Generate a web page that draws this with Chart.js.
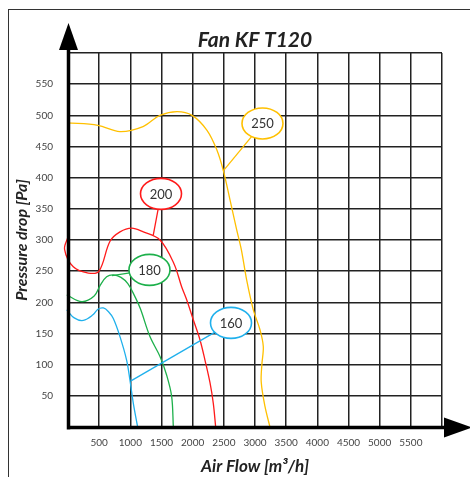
<!DOCTYPE html>
<html>
<head>
<meta charset="utf-8">
<script src="https://cdn.jsdelivr.net/npm/chart.js@4"></script>
<style>
  body { margin: 0; background: #fff; }
  canvas { display: block; }
</style>
</head>
<body>
<canvas id="fanChart" width="470" height="477"></canvas>
<script>
// curve labels (fan speed)
const speeds = ['250', '200', '180', '160'];

// air flow [m3/h] and pressure drop [Pa]
const flow250 = [-15, 480, 834, 1203, 1475, 1750, 1990, 2230, 2390, 2490, 2600, 2700, 2780, 2866, 2973, 3080, 3133, 3110, 3100, 3160, 3240];
const pa250   = [488, 484, 474, 482, 500, 506, 500, 476, 444, 412, 364, 319, 285, 236, 188, 156, 129, 100, 72, 33, 0];

const flow200 = [0, -55, 85, 326, 497, 674, 834, 1021, 1208, 1476, 1700, 1823, 1904, 2010, 2117, 2198, 2278, 2331, 2369];
const pa200   = [305, 285, 257, 247, 250, 298, 313, 319, 313, 300, 262, 225, 204, 172, 140, 107, 71, 38, 0];

const flow180 = [-20, 220, 420, 520, 620, 727, 850, 960, 1060, 1160, 1315, 1476, 1583, 1663, 1690];
const pa180   = [212, 201, 210, 228, 241, 244, 240, 230, 212, 190, 145, 113, 83, 49, 0];

const flow160 = [-20, 100, 246, 400, 480, 567, 650, 727, 834, 941, 994, 1048, 1117];
const pa160   = [188, 175, 171, 180, 189, 191, 185, 174, 145, 107, 75, 38, 0];

// where each speed label sits, and the curve point its pointer touches
const labelFlow   = [3120, 1492, 1307, 2615];
const labelPa     = [487, 374, 252, 167];
const pointerFlow = [2491, 1368, 706, 1010];
const pointerPa   = [411, 308, 243, 74];

// tick labels shown on the axes
const xTickLabels = [500, 1000, 1500, 2000, 2500, 3000, 3500, 4000, 4500, 5000, 5500];
const yTickLabels = [50, 100, 150, 200, 250, 300, 350, 400, 450, 500, 550];

const colors = ['#FFC000', '#FF1A1A', '#1DB04B', '#1FB0EC'];
const FONT = 'Lato, "Open Sans", sans-serif';

const toPoints = (xs, ys) => xs.map((x, i) => ({ x: x, y: ys[i] }));
const series = [
  toPoints(flow250, pa250),
  toPoints(flow200, pa200),
  toPoints(flow180, pa180),
  toPoints(flow160, pa160)
];

// frame, axis arrows and the little speed ellipses
const decorPlugin = {
  id: 'decor',
  beforeDraw(chart) {
    const ctx = chart.ctx;
    ctx.save();
    ctx.strokeStyle = '#333';
    ctx.lineWidth = 1;
    ctx.strokeRect(8.5, 9.5, 480, 480);
    ctx.restore();
  },
  afterDatasetsDraw(chart) {
    const ctx = chart.ctx;
    const a = chart.chartArea;
    const xs = chart.scales.x, ys = chart.scales.y;
    ctx.save();

    // axes
    ctx.strokeStyle = '#000';
    ctx.fillStyle = '#000';
    ctx.lineWidth = 3.5;
    ctx.beginPath();
    ctx.moveTo(a.left + 0.5, a.bottom + 2.5);
    ctx.lineTo(a.left + 0.5, a.top - 4);
    ctx.moveTo(a.left - 1, a.bottom + 0.5);
    ctx.lineTo(a.right + 4, a.bottom + 0.5);
    ctx.stroke();

    ctx.beginPath();
    ctx.moveTo(a.left + 0.5, a.top - 30);
    ctx.lineTo(a.left - 9, a.top - 3);
    ctx.lineTo(a.left + 10, a.top - 3);
    ctx.closePath();
    ctx.fill();

    ctx.beginPath();
    ctx.moveTo(a.right + 30, a.bottom + 0.5);
    ctx.lineTo(a.right + 2, a.bottom - 9.5);
    ctx.lineTo(a.right + 2, a.bottom + 10.5);
    ctx.closePath();
    ctx.fill();

    // speed labels
    speeds.forEach((s, i) => {
      const cx = xs.getPixelForValue(labelFlow[i]);
      const cy = ys.getPixelForValue(labelPa[i]);
      const px = xs.getPixelForValue(pointerFlow[i]);
      const py = ys.getPixelForValue(pointerPa[i]);
      ctx.strokeStyle = colors[i];
      ctx.lineWidth = 1.3;
      ctx.beginPath();
      ctx.moveTo(px, py);
      ctx.lineTo(cx, cy);
      ctx.stroke();

      ctx.beginPath();
      ctx.ellipse(cx, cy, 20.5, 15.5, 0, 0, Math.PI * 2);
      ctx.fillStyle = '#fff';
      ctx.fill();
      ctx.lineWidth = 1.6;
      ctx.stroke();

      ctx.fillStyle = '#333';
      ctx.font = '13px ' + FONT;
      ctx.textAlign = 'center';
      ctx.textBaseline = 'middle';
      ctx.fillText(s, cx, cy + 0.5);
    });
    ctx.restore();
  }
};

new Chart(document.getElementById('fanChart'), {
  type: 'scatter',
  data: {
    datasets: series.map((pts, i) => ({
      label: speeds[i],
      data: pts,
      showLine: true,
      borderColor: colors[i],
      borderWidth: 1.3,
      pointRadius: 0,
      tension: 0.35,
      clip: false
    }))
  },
  options: {
    responsive: false,
    animation: false,
    devicePixelRatio: 1,
    layout: { padding: { left: 0, right: 28, top: 0, bottom: 0 } },
    plugins: {
      legend: { display: false },
      tooltip: { enabled: false },
      title: {
        display: true,
        text: 'Fan KF T120',
        fullSize: false,
        color: '#222',
        font: { family: FONT, size: 21, weight: 'bold', style: 'italic' },
        padding: { top: 27.8, bottom: 0 }
      }
    },
    scales: {
      x: {
        type: 'linear',
        min: 0,
        max: 6000,
        afterFit: s => { s.height = 50; },
        border: { display: false },
        grid: { color: '#222', lineWidth: 1.5, drawTicks: false },
        ticks: {
          stepSize: 500,
          padding: 10,
          color: '#444',
          font: { family: FONT, size: 10 },
          maxRotation: 0,
          callback: v => xTickLabels.includes(v) ? String(v) : ''
        },
        title: {
          display: true,
          text: 'Air Flow [m³/h]',
          color: '#222',
          font: { family: FONT, size: 17, weight: 'bold', style: 'italic' },
          padding: { top: 0, bottom: 0 }
        }
      },
      y: {
        min: 0,
        max: 600,
        afterFit: s => { s.width = 68; },
        border: { display: false },
        grid: { color: '#222', lineWidth: 1.5, drawTicks: false },
        ticks: {
          stepSize: 50,
          padding: 15,
          color: '#444',
          font: { family: FONT, size: 10 },
          callback: v => yTickLabels.includes(v) ? String(v) : ''
        },
        title: {
          display: true,
          text: 'Pressure drop [Pa]',
          color: '#222',
          font: { family: FONT, size: 16, weight: 'bold', style: 'italic' },
          padding: { top: 12, bottom: 0 }
        }
      }
    }
  },
  plugins: [decorPlugin]
});
</script>
</body>
</html>
